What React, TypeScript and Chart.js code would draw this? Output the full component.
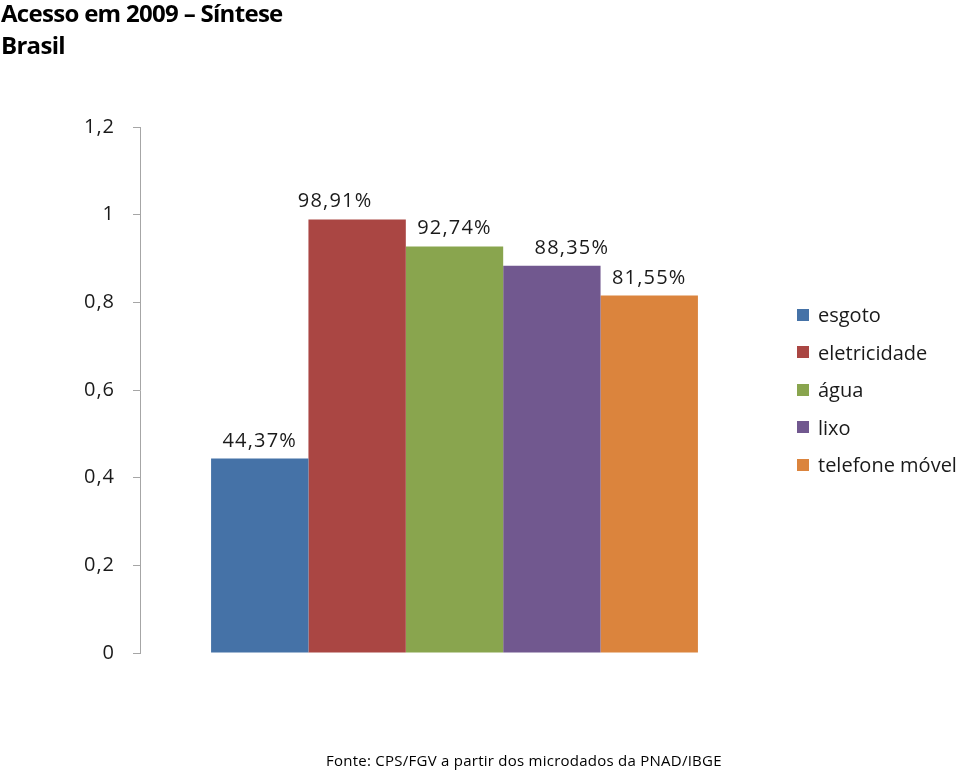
import React, { useEffect, useRef } from "react";
import { Chart, registerables } from "chart.js";

Chart.register(...registerables);

const categories = ["Brasil"];
const seriesNames = ["esgoto", "eletricidade", "água", "lixo", "telefone móvel"];
const seriesValues = [0.4437, 0.9891, 0.9274, 0.8835, 0.8155];
const seriesLabels = ["44,37%", "98,91%", "92,74%", "88,35%", "81,55%"];
const seriesColors = ["#4572A7", "#AA4643", "#89A54E", "#71588F", "#DB843D"];
const yTicks = [0, 0.2, 0.4, 0.6, 0.8, 1, 1.2];

const FONT = "'Open Sans', 'Noto Sans', sans-serif";
// horizontal nudges of the value labels (as in the original, to avoid overlaps)
const LABEL_NUDGE = [0, -22, 0, 20, 0];

const spacingPlugin = {
  id: "spacing",
  beforeDraw(chart: any) {
    chart.ctx.letterSpacing = "1px";
  },
};

const labelPlugin = {
  id: "barLabels",
  afterDatasetsDraw(chart: any) {
    const ctx = chart.ctx;
    ctx.save();
    ctx.font = `20px ${FONT}`;
    ctx.letterSpacing = "1.2px";
    ctx.fillStyle = "#1a1a1a";
    ctx.textAlign = "center";
    ctx.textBaseline = "alphabetic";
    chart.data.datasets.forEach((ds: any, i: number) => {
      const meta = chart.getDatasetMeta(i);
      meta.data.forEach((bar: any) => {
        ctx.fillText(seriesLabels[i], bar.x + LABEL_NUDGE[i], bar.y - 12);
      });
    });
    ctx.restore();
  },
};

export default function App() {
  const ref = useRef<HTMLCanvasElement>(null);
  useEffect(() => {
    if (!ref.current) return;
    const chart = new Chart(ref.current, {
      type: "bar",
      data: {
        labels: categories,
        datasets: seriesNames.map((name, i) => ({
          label: name,
          data: [seriesValues[i]],
          backgroundColor: seriesColors[i],
          borderWidth: 0,
          categoryPercentage: 0.774,
          barPercentage: 1,
        })),
      },
      options: {
        animation: false,
        responsive: false,
        maintainAspectRatio: false,
        layout: { padding: { top: 127, bottom: 120, left: 0, right: 191 } },
        plugins: { legend: { display: false }, tooltip: { enabled: false }, title: { display: false } },
        scales: {
          x: { display: false },
          y: {
            min: 0,
            max: 1.2,
            afterFit(scale: any) {
              scale.width = 140;
            },
            afterBuildTicks(scale: any) {
              scale.ticks = yTicks.map((v) => ({ value: v }));
            },
            grid: {
              display: true,
              drawOnChartArea: false,
              drawTicks: true,
              tickLength: 7,
              color: "#a6a6a6",
            },
            border: { display: true, color: "#a6a6a6", width: 1 },
            ticks: {
              padding: 18,
              color: "#1a1a1a",
              font: { family: FONT, size: 20 },
              callback: (v: any) => String(Math.round(Number(v) * 10) / 10).replace(".", ","),
            },
          },
        },
      },
      plugins: [spacingPlugin, labelPlugin],
    });
    return () => chart.destroy();
  }, []);

  return (
    <div style={{ position: "absolute", left: 0, top: 0, width: 960, height: 773, background: "#fff", overflow: "hidden" }}>
      <canvas ref={ref} width={960} height={773} style={{ position: "absolute", left: 0, top: 0 }} />
      <div
        style={{
          position: "absolute",
          left: 1,
          top: -3,
          fontFamily: FONT,
          fontWeight: 700,
          fontSize: 24,
          lineHeight: "32px",
          color: "#000",
          letterSpacing: -0.7,
          whiteSpace: "nowrap",
        }}
      >
        <div>Acesso em 2009 – Síntese</div>
        <div>Brasil</div>
      </div>
      <div
        style={{
          position: "absolute",
          left: 797,
          top: 296,
          width: 163,
          fontFamily: FONT,
          fontSize: 20,
          letterSpacing: 0,
          color: "#1a1a1a",
          whiteSpace: "nowrap",
        }}
      >
        {seriesNames.map((n, i) => (
          <div key={n} style={{ display: "flex", alignItems: "center", height: 37.5 }}>
            <span style={{ display: "inline-block", flex: "none", width: 12, height: 12, background: seriesColors[i], marginRight: 9 }} />
            <span>{n}</span>
          </div>
        ))}
      </div>
      <div
        style={{
          position: "absolute",
          left: 326,
          top: 750,
          fontFamily: FONT,
          fontSize: 15,
          letterSpacing: 0.25,
          color: "#000",
          whiteSpace: "nowrap",
        }}
      >
        Fonte: CPS/FGV a partir dos microdados da PNAD/IBGE
      </div>
    </div>
  );
}
